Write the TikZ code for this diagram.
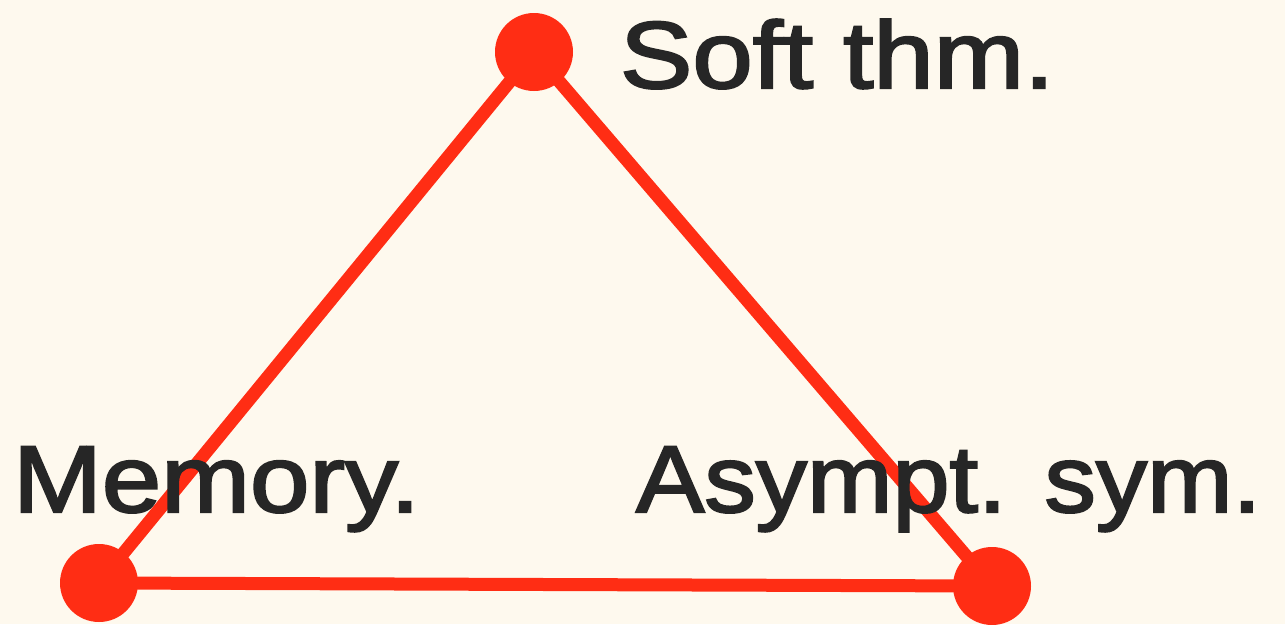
\documentclass[tikz,border=0pt]{standalone}
\usepackage{fontspec}
\setmainfont{Liberation Sans}
\newfontfamily\labelfont[FakeBold=2.2]{Liberation Sans}
\definecolor{bg}{HTML}{FEF9EE}
\definecolor{linered}{HTML}{FF2D14}
\definecolor{ink}{HTML}{262626}
\begin{document}
\begin{tikzpicture}[x=1pt,y=-1pt,
  vertex/.style={circle,fill=linered,minimum size=78pt,inner sep=0pt,outer sep=0pt},
  edge/.style={draw=linered,line width=13pt,line cap=round},
  label/.style={anchor=base west,inner sep=0pt,outer sep=0pt,text=ink,font=\labelfont\fontsize{95}{95}\selectfont,xscale=1.08}]
\fill[bg] (0,0) rectangle (1285,624);
\useasboundingbox (0,0) rectangle (1285,624);
\coordinate (T) at (534,52);
\coordinate (L) at (99,583);
\coordinate (R) at (992,586);
\draw[edge] (T) -- (L) -- (R) -- cycle;
\node[vertex] (t) at (T) {};
\node[vertex] (l) at (L) {};
\node[vertex] (r) at (R) {};
\node[label,xscale=1.058] (softlbl) at (620,88) {Soft thm.};
\node[label,xscale=1.04] (memlbl) at (13,512) {Memory.};
\node[label] (asylbl) at (636,512) {Asympt. sym.};
\end{tikzpicture}
\end{document}
